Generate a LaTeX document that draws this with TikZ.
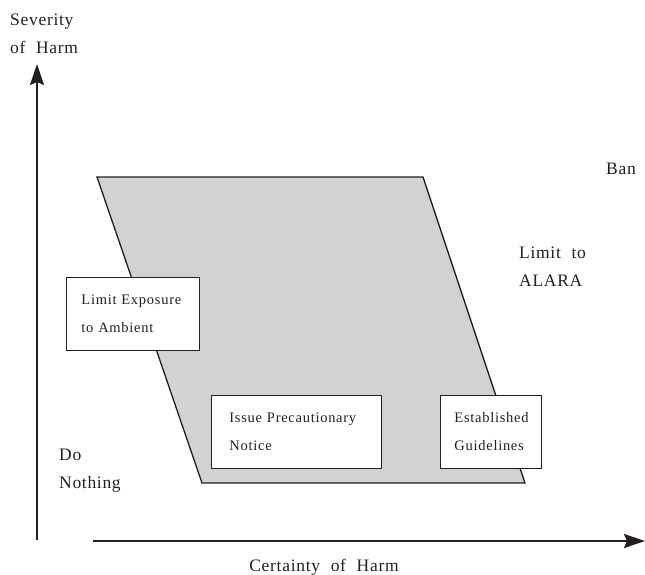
\documentclass[tikz,border=0pt]{standalone}
\usepackage{fontspec}
\setmainfont{Liberation Serif}[LetterSpace=4,WordSpace=2.1]
\newfontfamily\boxfont{Liberation Serif}[LetterSpace=5,WordSpace=1.8]
\usetikzlibrary{arrows.meta}
\definecolor{zone}{RGB}{209,210,212}
\definecolor{ink}{RGB}{35,31,32}
\tikzset{
  axis/.style={draw=ink,line width=2pt,-{Stealth[length=21pt,width=14pt,inset=3pt]}},
  txt/.style={text=ink,font=\fontsize{17.5}{28}\selectfont,align=left,inner sep=0pt},
  actbox/.style={draw=ink,line width=0.9pt,fill=white,text=ink,font=\boxfont\fontsize{14.5}{28}\selectfont,align=left,inner ysep=0pt,minimum height=73pt,anchor=north west}
}
\begin{document}
\begin{tikzpicture}[x=1pt,y=-1pt]
\useasboundingbox (0,0) rectangle (645,574);
% region
\draw[draw=ink,fill=zone,line width=1.3pt] (97,177) -- (423,177) -- (525,483) -- (202,483) -- cycle;
% axes
\coordinate (yb) at (37,540);
\coordinate (yt) at (37,64);
\coordinate (xl) at (93,541);
\coordinate (xr) at (645,541);
\draw[axis] (yb) -- (yt);
\draw[axis] (xl) -- (xr);
% labels
\node[txt,anchor=north west] (sev) at (10,14) {Severity\\of Harm};
\node[txt,anchor=base] (cert) at (324,571) {Certainty of Harm};
\node[txt,anchor=base west] (ban) at (606,174) {Ban};
\node[txt,anchor=north west] (alara) at (519,247) {Limit to\\ALARA};
\node[txt,anchor=north west] (nothing) at (59,449) {Do\\Nothing};
% boxes
\node[actbox,inner xsep=15pt,text width=103pt] (le) at (66,277) {\mbox{Limit Exposure}\\\mbox{to Ambient}};
\node[actbox,inner xsep=18pt,text width=134pt] (ip) at (211,395) {\mbox{Issue Precautionary}\\\mbox{Notice}};
\node[actbox,inner xsep=14pt,text width=73pt] (eg) at (440,395) {\mbox{Established}\\\mbox{Guidelines}};
\end{tikzpicture}
\end{document}
